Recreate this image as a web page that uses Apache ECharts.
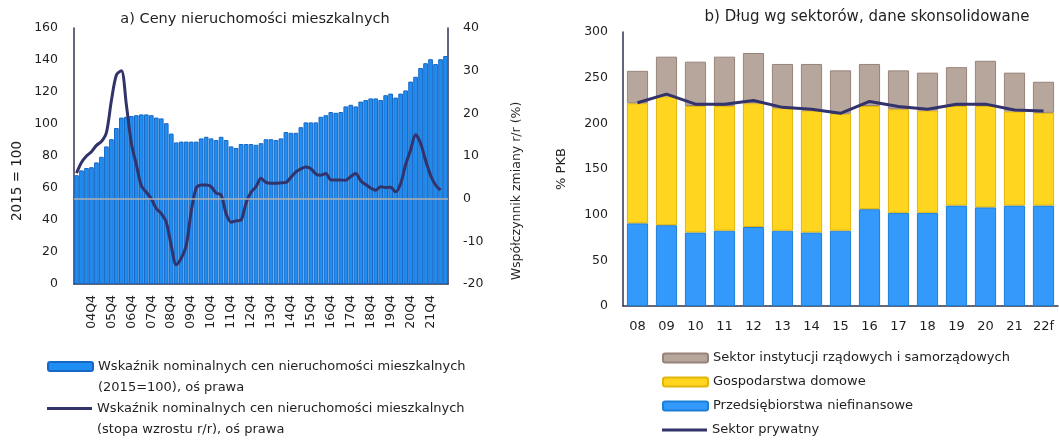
<!DOCTYPE html>
<html>
<head>
<meta charset="utf-8">
<script src="https://cdn.jsdelivr.net/npm/echarts@6/dist/echarts.min.js"></script>
<style>
  html, body { margin: 0; padding: 0; background: #fff; }
  #chart { width: 1059px; height: 441px; }
</style>
</head>
<body>
<div id="chart"></div>
<script>
// a) ceny nieruchomości - dane kwartalne od 04Q1
const quarterYears = ['04', '05', '06', '07', '08', '09', '10', '11', '12', '13', '14', '15', '16', '17', '18', '19', '20', '21', '22']
const quarterCount = 75
const priceIndex = [
  68, 71, 72.5, 73, 76, 79.5, 86, 90.5, 97.5, 104, 104.5, 105, 105.5, 106, 106, 105.5, 104, 103.5, 100.5, 94, 88.5, 89, 89, 89,
  89, 91, 92, 91, 90, 92, 90, 86, 85, 87.5, 87.5, 87.5, 87, 88, 90.5, 90.5, 90, 91, 95, 94.5, 94.5, 98, 101, 101, 101,
  104.5, 105.5, 107.5, 107, 107.5, 111, 112, 111, 114, 115, 116, 116, 115, 118, 119, 116.5, 119, 121, 126.5, 129.5, 135, 138, 140.5, 137.5, 140.5, 142.5
]
const priceGrowth = [
  6, 8.5, 10, 11, 12.5, 13.4, 15.5, 23, 29, 30, 22, 13,
  8, 3, 1.5, 0, -2.3, -3.5, -5.5, -11, -15.5, -14, -11, -3, 2.5, 3.2, 3.2, 2.8, 1.3, 0.9, -3.5, -5.5, -5.2, -5, -1, 1.5,
  2.8, 4.8, 3.8, 3.6, 3.6, 3.7, 3.8, 5, 6.3, 7, 7.4, 7, 5.8, 5.5, 5.9, 4.4, 4.4, 4.4, 4.3, 5.2, 5.9, 4.2, 3.3, 2.5, 2,
  2.8, 2.6, 2.7, 1.6, 3.5, 8, 11.4, 15, 13, 9, 5.5, 3.2, 2, null
]

// b) dług wg sektorów (% PKB)
const debtYears = ['08', '09', '10', '11', '12', '13', '14', '15', '16', '17', '18', '19', '20', '21', '22f']
const debtCorporate = [90.5, 88.5, 80.5, 82.5, 86.5, 82.5, 80.5, 82.5, 106, 102, 102, 110, 108, 110, 110]
const debtHouseholds = [131.5, 141, 138.5, 136.5, 135.5, 134, 133.5, 128, 113, 113.5, 112, 109, 111, 103, 101.5]
const debtGovernment = [35.5, 43.5, 48.5, 54, 55, 48.5, 51, 47.5, 46, 42.5, 41.5, 42.5, 49.5, 42.5, 34]
const debtPrivate = [222.5, 232, 221, 221, 225, 217.5, 215.5, 211, 224, 218.5, 215.5, 221, 221, 214.5, 213.5]

const quarters = []
quarterYears.forEach(y => {
  for (let q = 1; q <= 4; q++) quarters.push(y + 'Q' + q)
})
quarters.length = quarterCount

const FONT = 'DejaVu Sans'
const TXT = '#1f1f1f'
const AXIS = '#2f3452'
const NAVY = '#33336b'

const nameBar = 'Wskaźnik nominalnych cen nieruchomości mieszkalnych (2015=100), oś prawa'
const nameLine = 'Wskaźnik nominalnych cen nieruchomości mieszkalnych (stopa wzrostu r/r), oś prawa'
// pusty pierwszy wiersz - ikona wypada przy pierwszym wierszu opisu
const legendLines = {
  [nameBar]: '\nWskaźnik nominalnych cen nieruchomości mieszkalnych\n(2015=100), oś prawa',
  [nameLine]: '\nWskaźnik nominalnych cen nieruchomości mieszkalnych\n(stopa wzrostu r/r), oś prawa'
}

const chart = echarts.init(document.getElementById('chart'))

const twoLineLegend = (item, top, h) => ({
  data: [item],
  left: 47,
  top: top,
  padding: 0,
  itemWidth: 45,
  itemHeight: h,
  selectedMode: false,
  formatter: n => legendLines[n],
  textStyle: { fontFamily: FONT, fontSize: 13, color: TXT, lineHeight: 21 }
})

const rightLegend = (data, top, h) => ({
  data: data,
  orient: 'vertical',
  left: 662,
  top: top,
  padding: 0,
  itemWidth: 45,
  itemHeight: h,
  itemGap: 8,
  selectedMode: false,
  textStyle: { fontFamily: FONT, fontSize: 13, color: TXT, lineHeight: 16 }
})

const option = {
  animation: false,
  textStyle: { fontFamily: FONT },
  title: [
    {
      text: 'a) Ceny nieruchomości mieszkalnych',
      left: 250, top: 7, textAlign: 'center',
      textStyle: { fontFamily: FONT, fontSize: 14.5, fontWeight: 'normal', color: TXT }
    },
    {
      text: 'b) Dług wg sektorów, dane skonsolidowane',
      left: 862, top: 5, textAlign: 'center',
      textStyle: { fontFamily: FONT, fontSize: 15, fontWeight: 'normal', color: TXT }
    }
  ],
  legend: [
    twoLineLegend(nameBar, 335, 9),
    twoLineLegend({ name: nameLine, icon: 'rect' }, 377, 3),
    rightLegend(['Sektor instytucji rządowych i samorządowych', 'Gospodarstwa domowe', 'Przedsiębiorstwa niefinansowe'], 350, 9),
    rightLegend([{ name: 'Sektor prywatny', icon: 'rect' }], 422, 3)
  ],
  grid: [
    { left: 74, right: 611, top: 28, bottom: 157 },
    { left: 623, right: 1, top: 32, bottom: 135 }
  ],
  xAxis: [
    {
      type: 'category',
      gridIndex: 0,
      data: quarters,
      axisLine: { lineStyle: { color: AXIS, width: 1.5 } },
      axisTick: { show: false },
      axisLabel: {
        rotate: 90,
        margin: 11,
        interval: (i) => i % 4 === 3,
        fontSize: 12.5,
        color: TXT,
        fontFamily: FONT
      }
    },
    {
      type: 'category',
      gridIndex: 1,
      data: debtYears,
      axisLine: { lineStyle: { color: AXIS, width: 1.5 } },
      axisTick: { show: false },
      axisLabel: { margin: 14, fontSize: 13, color: TXT, fontFamily: FONT }
    }
  ],
  yAxis: [
    {
      type: 'value',
      gridIndex: 0,
      min: 0, max: 160, interval: 20,
      name: '2015 = 100',
      nameLocation: 'middle',
      nameGap: 50,
      nameTextStyle: { fontSize: 13.5, color: TXT, fontFamily: FONT, padding: [0, 50, 0, 0] },
      axisLine: { show: true, lineStyle: { color: AXIS, width: 1.5 } },
      axisTick: { show: false },
      splitLine: { show: false },
      axisLabel: { margin: 16, fontSize: 12.5, color: TXT, fontFamily: FONT }
    },
    {
      type: 'value',
      gridIndex: 0,
      position: 'right',
      min: -20, max: 40, interval: 10,
      name: 'Współczynnik zmiany r/r (%)',
      nameLocation: 'middle',
      nameGap: 62,
      nameTextStyle: { fontSize: 12.5, color: TXT, fontFamily: FONT, padding: [0, 70, 0, 0] },
      axisLine: { show: true, lineStyle: { color: AXIS, width: 1.5 } },
      axisTick: { show: false },
      splitLine: { show: false },
      axisLabel: { margin: 15, fontSize: 12.5, color: TXT, fontFamily: FONT }
    },
    {
      type: 'value',
      gridIndex: 1,
      min: 0, max: 300, interval: 50,
      name: '% PKB',
      nameLocation: 'middle',
      nameGap: 55,
      nameTextStyle: { fontSize: 13, color: TXT, fontFamily: FONT },
      axisLine: { show: true, lineStyle: { color: AXIS, width: 1.5 } },
      axisTick: { show: false },
      splitLine: { show: false },
      axisLabel: { margin: 15, fontSize: 12.5, color: TXT, fontFamily: FONT }
    }
  ],
  series: [
    {
      name: nameBar,
      type: 'bar',
      xAxisIndex: 0, yAxisIndex: 0,
      data: priceIndex,
      barCategoryGap: '6%',
      itemStyle: { color: '#1f8ef3', borderColor: '#1867c4', borderWidth: 1 }
    },
    {
      name: nameLine,
      type: 'line',
      xAxisIndex: 0, yAxisIndex: 1,
      data: priceGrowth,
      symbol: 'none',
      smooth: 0.3,
      z: 4,
      lineStyle: { color: NAVY, width: 3 },
      itemStyle: { color: NAVY },
      markLine: {
        silent: true,
        symbol: 'none',
        label: { show: false },
        lineStyle: { color: '#b0b0b0', width: 1.5, type: 'solid' },
        data: [{ yAxis: 0 }]
      }
    },
    {
      name: 'Przedsiębiorstwa niefinansowe',
      type: 'bar',
      stack: 'debt',
      xAxisIndex: 1, yAxisIndex: 2,
      data: debtCorporate,
      barCategoryGap: '27%',
      itemStyle: { color: '#3399fb', borderColor: '#1d7fd6', borderWidth: 1 }
    },
    {
      name: 'Gospodarstwa domowe',
      type: 'bar',
      stack: 'debt',
      xAxisIndex: 1, yAxisIndex: 2,
      data: debtHouseholds,
      itemStyle: { color: '#ffd520', borderColor: '#e3b50a', borderWidth: 1 }
    },
    {
      name: 'Sektor instytucji rządowych i samorządowych',
      type: 'bar',
      stack: 'debt',
      xAxisIndex: 1, yAxisIndex: 2,
      data: debtGovernment,
      itemStyle: { color: '#b7a69c', borderColor: '#98837a', borderWidth: 1 }
    },
    {
      name: 'Sektor prywatny',
      type: 'line',
      xAxisIndex: 1, yAxisIndex: 2,
      data: debtPrivate,
      symbol: 'none',
      z: 4,
      lineStyle: { color: NAVY, width: 3 },
      itemStyle: { color: NAVY }
    }
  ]
}

chart.setOption(option)
</script>
</body>
</html>
